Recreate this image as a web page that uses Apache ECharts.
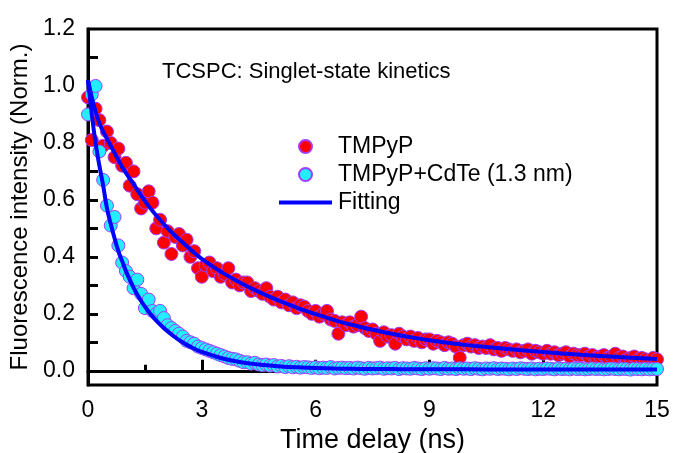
<!DOCTYPE html>
<html>
<head>
<meta charset="utf-8">
<script src="https://cdn.jsdelivr.net/npm/echarts@6/dist/echarts.min.js"></script>
<style>
  html, body { margin: 0; padding: 0; background: #fff; }
  #chart { width: 673px; height: 453px; }
</style>
</head>
<body>
<div id="chart"></div>
<script>
// time delay (ns) of the measured points
var delay = [
  0.0, 0.1, 0.2, 0.3, 0.4, 0.5, 0.6, 0.7, 0.8, 0.9,
  1.0, 1.1, 1.2, 1.3, 1.4, 1.5, 1.6, 1.7, 1.8, 1.9,
  2.0, 2.1, 2.2, 2.3, 2.4, 2.5, 2.6, 2.7, 2.8, 2.9,
  3.0, 3.1, 3.2, 3.3, 3.4, 3.5, 3.6, 3.7, 3.8, 3.9,
  4.0, 4.1, 4.2, 4.3, 4.4, 4.5, 4.6, 4.7, 4.8, 4.9,
  5.0, 5.1, 5.2, 5.3, 5.4, 5.5, 5.6, 5.7, 5.8, 5.9,
  6.0, 6.1, 6.2, 6.3, 6.4, 6.5, 6.6, 6.7, 6.8, 6.9,
  7.0, 7.1, 7.2, 7.3, 7.4, 7.5, 7.6, 7.7, 7.8, 7.9,
  8.0, 8.1, 8.2, 8.3, 8.4, 8.5, 8.6, 8.7, 8.8, 8.9,
  9.0, 9.1, 9.2, 9.3, 9.4, 9.5, 9.6, 9.7, 9.8, 9.9,
  10.0, 10.1, 10.2, 10.3, 10.4, 10.5, 10.6, 10.7, 10.8, 10.9,
  11.0, 11.1, 11.2, 11.3, 11.4, 11.5, 11.6, 11.7, 11.8, 11.9,
  12.0, 12.1, 12.2, 12.3, 12.4, 12.5, 12.6, 12.7, 12.8, 12.9,
  13.0, 13.1, 13.2, 13.3, 13.4, 13.5, 13.6, 13.7, 13.8, 13.9,
  14.0, 14.1, 14.2, 14.3, 14.4, 14.5, 14.6, 14.7, 14.8, 14.9,
  15.0
];

var tmpyp = [
  0.96, 0.81, 0.92, 0.88, 0.79, 0.84, 0.80, 0.75, 0.78, 0.72,
  0.73, 0.65, 0.70, 0.62, 0.57, 0.59, 0.63, 0.59, 0.50, 0.53,
  0.45, 0.49, 0.41, 0.47, 0.48, 0.44, 0.46, 0.40, 0.42, 0.36,
  0.33, 0.37, 0.38, 0.35, 0.36, 0.33, 0.34, 0.36, 0.31, 0.32,
  0.30, 0.31, 0.31, 0.28, 0.29, 0.28, 0.27, 0.29, 0.26, 0.25,
  0.26, 0.24, 0.25, 0.23, 0.24, 0.22, 0.23, 0.225, 0.21, 0.20,
  0.21, 0.19, 0.20, 0.21, 0.18, 0.175, 0.13, 0.17, 0.16, 0.17,
  0.155, 0.16, 0.19, 0.15, 0.14, 0.145, 0.13, 0.105, 0.135, 0.12,
  0.125, 0.095, 0.13, 0.12, 0.11, 0.12, 0.105, 0.115, 0.10, 0.11,
  0.11, 0.095, 0.105, 0.10, 0.09, 0.10, 0.095, 0.085, 0.046, 0.09,
  0.095, 0.085, 0.09, 0.08, 0.085, 0.08, 0.09, 0.075, 0.08, 0.07,
  0.08, 0.075, 0.07, 0.075, 0.065, 0.07, 0.075, 0.06, 0.07, 0.065,
  0.06, 0.07, 0.06, 0.065, 0.055, 0.06, 0.065, 0.05, 0.06, 0.055,
  0.055, 0.06, 0.05, 0.055, 0.045, 0.05, 0.055, 0.045, 0.05, 0.06,
  0.045, 0.05, 0.04, 0.045, 0.05, 0.04, 0.045, 0.04, 0.035, 0.045,
  0.04
];

var tmpypCdTe = [
  0.90, 0.97, 1.00, 0.77, 0.67, 0.58, 0.51, 0.54, 0.44, 0.38,
  0.35, 0.33, 0.29, 0.32, 0.27, 0.22, 0.25, 0.21, 0.20, 0.21,
  0.185, 0.16, 0.15, 0.14, 0.13, 0.12, 0.105, 0.10, 0.095, 0.085,
  0.08, 0.075, 0.07, 0.065, 0.06, 0.055, 0.05, 0.045, 0.042, 0.04,
  0.035, 0.03, 0.03, 0.025, 0.028, 0.022, 0.02, 0.022, 0.018, 0.02,
  0.015, 0.017, 0.013, 0.016, 0.012, 0.014, 0.011, 0.013, 0.012, 0.010,
  0.012, 0.009, 0.011, 0.010, 0.013, 0.008, 0.010, 0.011, 0.009, 0.010,
  0.008, 0.011, 0.009, 0.007, 0.010, 0.008, 0.009, 0.011, 0.007, 0.009,
  0.008, 0.010, 0.006, 0.009, 0.008, 0.007, 0.010, 0.008, 0.006, 0.009,
  0.007, 0.009, 0.008, 0.006, 0.010, 0.007, 0.008, 0.006, 0.009, 0.007,
  0.008, 0.006, 0.009, 0.007, 0.005, 0.008, 0.007, 0.009, 0.006, 0.008,
  0.007, 0.005, 0.008, 0.006, 0.009, 0.007, 0.006, 0.008, 0.005, 0.007,
  0.006, 0.008, 0.007, 0.005, 0.008, 0.006, 0.007, 0.005, 0.008, 0.006,
  0.007, 0.005, 0.006, 0.008, 0.006, 0.007, 0.005, 0.006, 0.008, 0.006,
  0.005, 0.007, 0.006, 0.004, 0.007, 0.006, 0.005, 0.007, 0.005, 0.006,
  0.006
];

// fitted curves
var fitTime = [0, 0.1, 0.2, 0.3, 0.4, 0.5, 0.6, 0.7, 0.8, 0.9, 1.0, 1.2, 1.4, 1.6, 1.8,
  2.0, 2.25, 2.5, 2.75, 3.0, 3.5, 4, 4.5, 5, 5.5, 6, 6.5, 7, 7.5, 8, 8.5, 9, 9.5, 10,
  11, 12, 13, 14, 15];
var fitTmpyp = [1.02, 0.96, 0.91, 0.87, 0.84, 0.815, 0.79, 0.765, 0.74, 0.715, 0.695,
  0.655, 0.615, 0.578, 0.545, 0.515, 0.48, 0.45, 0.42, 0.393, 0.348, 0.31, 0.277,
  0.248, 0.222, 0.199, 0.178, 0.16, 0.144, 0.13, 0.118, 0.107, 0.098, 0.09, 0.077,
  0.066, 0.056, 0.048, 0.041];
var fitCdTe = [1.02, 0.9, 0.8, 0.72, 0.65, 0.57, 0.515, 0.465, 0.42, 0.385, 0.35,
  0.292, 0.245, 0.207, 0.176, 0.15, 0.122, 0.099, 0.081, 0.066, 0.045, 0.031, 0.022,
  0.016, 0.012, 0.01, 0.008, 0.007, 0.006, 0.006, 0.005, 0.005, 0.005, 0.005, 0.004,
  0.004, 0.004, 0.004, 0.004];

var yLabels = [0, 0.2, 0.4, 0.6, 0.8, 1.0, 1.2];
var yTicks = [0, 0.1, 0.2, 0.3, 0.4, 0.5, 0.6, 0.7, 0.8, 0.9, 1.0, 1.1];

function zip(xs, ys) {
  return xs.map(function (x, i) { return [x, ys[i]]; });
}

var font = 'Liberation Sans, Arial, sans-serif';
var chart = echarts.init(document.getElementById('chart'));

var option = {
  animation: false,
  backgroundColor: '#fff',
  textStyle: { fontFamily: font, color: '#000' },
  title: {
    text: 'TCSPC: Singlet-state kinetics',
    left: 162,
    top: 61,
    padding: 0,
    textStyle: { fontSize: 22, fontWeight: 'normal', color: '#000', fontFamily: font }
  },
  legend: {
    orient: 'vertical',
    left: 279,
    top: 135,
    itemWidth: 53,
    itemHeight: 13,
    itemGap: 5,
    padding: 0,
    textStyle: { fontSize: 23, color: '#000', fontFamily: font, padding: [0, 0, 0, 1] },
    data: [
      { name: 'TMPyP', icon: 'circle' },
      { name: 'TMPyP+CdTe (1.3 nm)', icon: 'circle' },
      { name: 'Fitting', icon: 'path://M0,0 L53,0 L53,4 L0,4 Z' }
    ]
  },
  grid: {
    left: 88, right: 16, top: 29, bottom: 68,
    outerBoundsMode: 'none',
    containLabel: false,
    show: true, borderColor: '#000', borderWidth: 3
  },
  xAxis: {
    type: 'value',
    min: 0, max: 15, interval: 3,
    name: 'Time delay (ns)',
    nameLocation: 'middle',
    nameGap: 38,
    nameTextStyle: { fontSize: 27, color: '#000', fontFamily: font },
    axisLine: { show: true, lineStyle: { color: '#000', width: 3 } },
    axisTick: { inside: true, length: 11, lineStyle: { color: '#000', width: 3 } },
    minorTick: { show: true, splitNumber: 2, length: 6, lineStyle: { color: '#000', width: 3 } },
    axisLabel: { fontSize: 23, color: '#000', margin: 14, fontFamily: font },
    splitLine: { show: false }
  },
  yAxis: {
    type: 'value',
    min: -0.05, max: 1.2,
    name: 'Fluorescence intensity (Norm.)',
    nameLocation: 'middle',
    nameGap: 50,
    nameTextStyle: { fontSize: 24, color: '#000', fontFamily: font },
    axisLine: { show: true, lineStyle: { color: '#000', width: 3 } },
    axisTick: { inside: true, length: 10, customValues: yTicks, lineStyle: { color: '#000', width: 3 } },
    axisLabel: {
      fontSize: 23, color: '#000', margin: 13, fontFamily: font,
      customValues: yLabels,
      formatter: function (v) { return v.toFixed(1); }
    },
    splitLine: { show: false }
  },
  series: [
    {
      name: 'TMPyP',
      type: 'scatter',
      symbol: 'circle',
      symbolSize: 13,
      itemStyle: { color: '#ff0000', borderColor: '#a03cff', borderWidth: 1, opacity: 1 },
      data: zip(delay, tmpyp),
      z: 2
    },
    {
      name: 'TMPyP+CdTe (1.3 nm)',
      type: 'scatter',
      symbol: 'circle',
      symbolSize: 13,
      itemStyle: { color: '#22eeff', borderColor: '#a03cff', borderWidth: 1, opacity: 1 },
      data: zip(delay, tmpypCdTe),
      z: 3
    },
    {
      name: 'Fitting',
      type: 'line',
      symbol: 'none',
      smooth: 0.4,
      lineStyle: { color: '#0000ff', width: 4 },
      itemStyle: { color: '#0000ff' },
      data: zip(fitTime, fitTmpyp),
      z: 5
    },
    {
      name: 'Fitting',
      type: 'line',
      symbol: 'none',
      smooth: 0.4,
      lineStyle: { color: '#0000ff', width: 4 },
      itemStyle: { color: '#0000ff' },
      data: zip(fitTime, fitCdTe),
      z: 5
    }
  ]
};

chart.setOption(option);
</script>
</body>
</html>
